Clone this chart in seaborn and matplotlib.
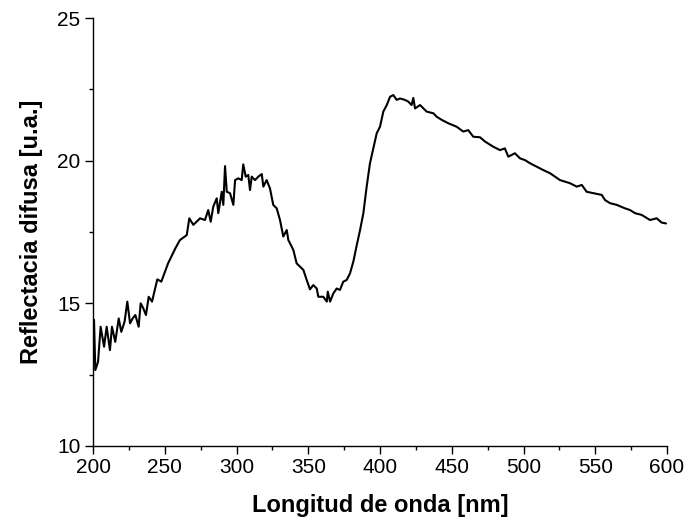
import numpy as np
import pandas as pd
import matplotlib
matplotlib.use("Agg")
import matplotlib.pyplot as plt
import seaborn as sns
from matplotlib.ticker import MultipleLocator

wavelength = [200.7, 201.6, 203.5, 205.3, 207.7, 209.5, 211.8, 213.2, 215.5, 217.9,
              219.7, 222.0, 223.9, 225.8, 227.6, 229.5, 231.8, 233.2, 235.0, 236.9,
              238.8, 241.1, 244.8, 247.6, 252.3, 257.4, 260.6, 265.3, 267.1, 269.9,
              274.6, 278.0, 280.3, 282.0, 283.8, 286.2, 287.3, 289.7, 290.8, 292.0,
              293.2, 295.5, 297.8, 299.0, 301.3, 303.6, 304.7, 306.4, 308.2, 309.4,
              310.6, 312.9, 315.2, 317.6, 318.7, 321.0, 323.3, 325.6, 328.0, 330.3,
              332.6, 335.0, 336.1, 339.6, 341.9, 344.3, 346.6, 348.9, 351.2, 353.5,
              355.9, 357.0, 360.5, 362.9, 363.6, 365.2, 367.5, 369.8, 372.1, 374.4,
              376.8, 379.1, 381.4, 383.8, 386.1, 388.4, 390.7, 393.0, 395.3, 397.7,
              400.0, 402.3, 404.7, 407.0, 409.3, 411.6, 413.9, 417.4, 419.7, 422.0,
              423.2, 424.4, 427.9, 432.5, 437.2, 439.5, 443.0, 447.6, 453.4, 458.0,
              461.5, 465.0, 469.7, 473.2, 478.9, 483.6, 487.0, 489.4, 494.0, 497.6,
              501.0, 504.5, 509.2, 513.8, 518.5, 525.4, 532.4, 537.1, 540.6, 544.0,
              548.7, 554.5, 556.8, 560.3, 565.0, 570.7, 574.2, 577.7, 582.3, 588.2,
              592.8, 596.3, 599.3]
reflectance = [14.42, 12.66, 12.95, 14.18, 13.48, 14.18, 13.36, 14.18, 13.65, 14.47,
               14.00, 14.36, 15.06, 14.30, 14.47, 14.59, 14.18, 15.00, 14.83, 14.59,
               15.23, 15.06, 15.84, 15.76, 16.40, 16.93, 17.22, 17.39, 17.98, 17.75,
               17.98, 17.92, 18.27, 17.86, 18.39, 18.68, 18.16, 18.91, 18.45, 19.81,
               18.91, 18.86, 18.45, 19.32, 19.38, 19.32, 19.87, 19.44, 19.50, 18.97,
               19.44, 19.32, 19.44, 19.53, 19.09, 19.32, 19.03, 18.45, 18.33, 17.92,
               17.34, 17.57, 17.22, 16.87, 16.40, 16.28, 16.17, 15.82, 15.49, 15.64,
               15.52, 15.23, 15.23, 15.06, 15.41, 15.06, 15.35, 15.52, 15.47, 15.76,
               15.82, 16.05, 16.46, 17.04, 17.57, 18.16, 19.09, 19.91, 20.43, 20.96,
               21.19, 21.72, 21.95, 22.24, 22.30, 22.13, 22.18, 22.13, 22.07, 21.95,
               22.20, 21.83, 21.95, 21.72, 21.66, 21.54, 21.43, 21.31, 21.19, 21.02,
               21.07, 20.84, 20.82, 20.67, 20.49, 20.37, 20.43, 20.14, 20.26, 20.08,
               20.02, 19.91, 19.79, 19.67, 19.56, 19.32, 19.21, 19.09, 19.15, 18.91,
               18.86, 18.80, 18.62, 18.51, 18.45, 18.33, 18.27, 18.16, 18.10, 17.92,
               17.98, 17.83, 17.80]

x_ticks = [200, 250, 300, 350, 400, 450, 500, 550, 600]
y_ticks = [10, 15, 20, 25]

sns.set_style("ticks")
plt.rcParams['font.family'] = ['Liberation Sans', 'DejaVu Sans']
plt.rcParams['text.color'] = 'black'
plt.rcParams['axes.labelcolor'] = 'black'
plt.rcParams['xtick.color'] = 'black'
plt.rcParams['ytick.color'] = 'black'

df = pd.DataFrame({"wl": wavelength, "r": reflectance})

fig = plt.figure(figsize=(6.87, 5.22), dpi=100)
ax = fig.add_axes([0.1354, 0.1456, 0.8355, 0.8199])
sns.lineplot(data=df, x="wl", y="r", color="black", linewidth=1.5, ax=ax)

ax.set_xlim(200, 600)
ax.set_ylim(10, 25)
ax.set_xticks(x_ticks)
ax.set_yticks(y_ticks)
ax.xaxis.set_minor_locator(MultipleLocator(25))
ax.yaxis.set_minor_locator(MultipleLocator(2.5))
ax.tick_params(which="major", direction="out", length=6, width=1.0, labelsize=15,
               colors="black", pad=3)
ax.tick_params(which="minor", direction="out", length=3, width=1.0, colors="black")
for s in ["top", "right"]:
    ax.spines[s].set_visible(False)
for s in ["left", "bottom"]:
    ax.spines[s].set_linewidth(1.0)
    ax.spines[s].set_color("black")

ax.set_xlabel("Longitud de onda [nm]", fontsize=17, fontweight="bold", labelpad=12, color="black")
ax.set_ylabel("Reflectacia difusa [u.a.]", fontsize=17, fontweight="bold", labelpad=10, color="black")

fig.savefig("out.png", dpi=100)
